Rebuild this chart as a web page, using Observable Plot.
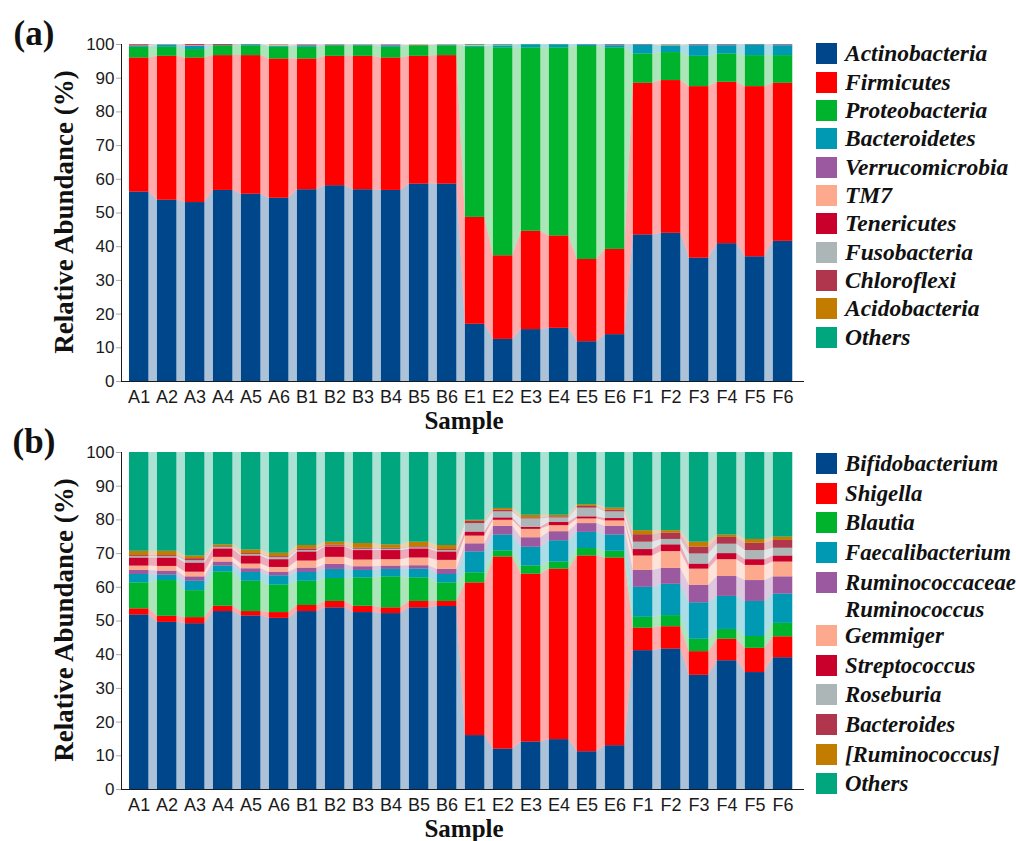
<!DOCTYPE html>
<html>
<head>
<meta charset="utf-8">
<script src="https://cdn.jsdelivr.net/npm/d3@7"></script>
<script src="https://cdn.jsdelivr.net/npm/@observablehq/plot@0.6"></script>
<style>
  html, body { margin: 0; padding: 0; background: #fff; overflow: hidden; }
  #root { position: relative; width: 1016px; height: 841px; overflow: hidden; }
  .panel { position: absolute; left: 0; }
  .ylab { position: absolute; white-space: nowrap; font: bold 27px "Liberation Serif", "Times New Roman", serif; color: #111;
          transform: translate(-50%, -50%) rotate(-90deg); }
  .xlab { position: absolute; white-space: nowrap; font: bold 25px "Liberation Serif", "Times New Roman", serif; color: #111;
          transform: translate(-50%, -50%); }
  .tag { position: absolute; white-space: nowrap; font: bold 35px "Liberation Serif", "Times New Roman", serif; color: #111;
          transform: translate(-50%, -50%); }
  .leg { position: absolute; left: 816px; display: flex; align-items: flex-start; white-space: nowrap; }
  .leg .sw { width: 21px; height: 21px; flex: none; }
  .leg .tx { margin-left: 8px; font: italic bold 23.5px/21px "Liberation Serif", "Times New Roman", serif; color: #111; }
  .legB .tx { font-size: 22.8px; }
  svg [aria-label^="y-axis"] text { font-size: 17px; }
  svg [aria-label^="x-axis"] text { font-size: 18px; }
  svg [aria-label^="y-axis"] path, svg [aria-label^="y-axis"] line,
  svg [aria-label^="x-axis"] path, svg [aria-label^="x-axis"] line { stroke: #a8a8a8; }
</style>
</head>
<body>
<div id="root"></div>
<script>
// ---------- data ----------
const samples = ["A1","A2","A3","A4","A5","A6","B1","B2","B3","B4","B5","B6",
                 "E1","E2","E3","E4","E5","E6","F1","F2","F3","F4","F5","F6"];

// Panel (a): phylum level
const phyla = ["Actinobacteria","Firmicutes","Proteobacteria","Bacteroidetes","Verrucomicrobia",
               "TM7","Tenericutes","Fusobacteria","Chloroflexi","Acidobacteria","Others"];
const phylaColors = ["#00468b","#ff0000","#00b32c","#0099b4","#9b59a0",
                     "#fca98e","#c8002b","#adb6b6","#b0364d","#c27d00","#00a67d"];
const actinobacteria  = [56.2,53.8,53.1,56.7,55.6,54.4,56.9,58.1,56.9,56.7,58.6,58.6,17.0,12.5,15.4,15.8,11.8,13.9,43.5,44.0,36.6,40.9,37.0,41.6];
const firmicutes      = [39.8,42.7,42.9,40.0,41.1,41.3,38.8,38.4,39.6,39.3,37.9,38.1,31.7,24.8,29.2,27.4,24.4,25.3,45.0,45.3,50.9,47.9,50.5,46.9];
const proteobacteria  = [3.2,2.7,2.5,2.9,2.9,3.5,3.5,3.1,3.1,3.2,3.1,2.9,50.5,61.7,54.4,55.8,63.2,59.8,8.7,8.3,9.0,8.4,9.2,8.2];
const bacteroidetes   = [0.2,0.5,1.0,0.1,0.3,0.3,0.3,0.1,0.2,0.3,0.1,0.2,0.3,0.6,0.8,0.7,0.4,0.6,2.5,2.0,3.1,2.4,3.0,2.9];
const verrucomicrobia = [0.1,0.1,0.1,0.0,0.1,0.0,0.3,0.2,0.1,0.3,0.0,0.1,0.0,0.0,0.0,0.1,0.1,0.3,0.2,0.0,0.3,0.3,0.2,0.3];
const tm7             = [0.1,0.1,0.1,0.0,0.0,0.4,0.1,0.1,0.1,0.1,0.3,0.1,0.3,0.2,0.0,0.0,0.0,0.0,0.0,0.3,0.0,0.0,0.0,0.0];
const tenericutes     = [0.2,0.0,0.2,0.2,0.0,0.0,0.0,0.0,0.0,0.0,0.0,0.0,0.0,0.0,0.0,0.0,0.0,0.0,0.0,0.0,0.0,0.0,0.0,0.0];
const fusobacteria    = [0.0,0.0,0.0,0.0,0.0,0.0,0.0,0.0,0.0,0.0,0.0,0.0,0.0,0.0,0.0,0.0,0.0,0.0,0.0,0.0,0.0,0.0,0.0,0.0];
const chloroflexi     = [0.1,0.0,0.1,0.1,0.0,0.0,0.0,0.0,0.0,0.0,0.0,0.0,0.0,0.0,0.0,0.0,0.0,0.0,0.0,0.0,0.0,0.0,0.0,0.0];
const acidobacteria   = [0.0,0.0,0.0,0.0,0.0,0.0,0.0,0.0,0.0,0.0,0.0,0.0,0.0,0.0,0.0,0.0,0.0,0.0,0.0,0.0,0.0,0.0,0.0,0.0];
const othersPhyla     = [0.1,0.1,0.0,0.0,0.0,0.1,0.1,0.0,0.0,0.1,0.0,0.0,0.2,0.2,0.2,0.2,0.1,0.1,0.1,0.1,0.1,0.1,0.1,0.1];

// Panel (b): genus level
const genera = ["Bifidobacterium","Shigella","Blautia","Faecalibacterium","Ruminococcaceae Ruminococcus",
                "Gemmiger","Streptococcus","Roseburia","Bacteroides","[Ruminococcus]","Others"];
const generaColors = phylaColors;
const bifidobacterium  = [51.8,49.6,49.2,52.8,51.5,50.8,52.8,53.9,52.5,52.2,53.9,54.3,16.0,12.0,14.1,14.8,11.2,13.0,41.2,41.7,33.9,38.2,34.7,39.1];
const shigella         = [1.8,1.8,1.8,1.6,1.3,1.7,1.8,1.9,1.9,1.7,1.9,1.5,45.3,57.0,49.8,50.6,58.1,55.7,6.7,6.6,7.0,6.4,7.2,6.2];
const blautia          = [7.7,10.6,8.0,10.1,9.0,8.2,7.2,6.8,8.4,9.2,7.0,5.5,3.0,1.8,2.4,2.1,2.2,2.0,3.2,3.3,3.7,2.9,3.5,4.0];
const faecalibacterium = [2.5,1.6,2.8,1.8,2.6,2.7,2.6,2.7,2.2,2.2,2.6,2.5,6.2,4.7,5.6,6.3,4.8,4.8,8.9,9.3,10.8,9.8,10.4,8.7];
const ruminococcaceae  = [1.2,1.2,1.3,1.2,1.1,1.1,1.3,1.5,1.1,1.0,1.0,1.5,2.4,2.6,2.8,2.7,2.6,2.6,5.0,4.7,5.2,5.9,6.2,5.1];
const gemmiger         = [1.3,1.4,1.4,1.4,1.4,1.4,2.1,2.1,2.0,1.9,2.3,2.7,2.3,1.8,2.5,1.8,1.4,1.6,4.3,5.0,4.8,5.0,4.5,4.4];
const streptococcus    = [2.4,2.5,2.7,2.5,2.4,2.3,2.7,3.1,2.8,2.7,2.7,2.5,1.2,0.7,0.6,1.0,0.6,0.7,1.9,2.0,1.5,1.8,1.7,1.8];
const roseburia        = [0.4,0.4,0.7,0.4,0.4,0.6,0.4,0.2,0.4,0.4,0.3,0.4,2.5,1.8,2.5,1.3,2.6,2.0,2.2,1.6,3.0,2.8,2.7,2.3];
const bacteroides      = [0.3,0.3,0.6,0.2,0.3,0.3,0.5,0.3,0.3,0.3,0.3,0.3,0.7,0.5,0.3,0.3,0.5,0.5,2.2,1.9,2.0,2.0,2.2,2.3];
const ruminococcusBr   = [1.3,1.3,0.8,0.6,1.1,1.0,1.0,0.9,1.4,1.0,1.4,1.2,0.3,0.5,0.8,0.5,0.5,0.6,1.2,0.7,1.5,0.7,1.1,1.0];
const othersGenera     = [29.3,29.3,30.7,27.4,28.9,29.9,27.6,26.6,27.0,27.4,26.6,27.6,20.1,16.6,18.6,18.6,15.5,16.5,23.2,23.2,26.6,24.5,25.8,25.1];

const yTicks = [0,10,20,30,40,50,60,70,80,90,100];

// ---------- drawing ----------
const root = document.getElementById("root");
const HALF = 0.345; // half bar width in band units

function makeChart(taxa, colors, series) {
  const rows = [];
  samples.forEach((s, i) => taxa.forEach((t, k) => rows.push({sample: s, i, taxon: t, value: series[k][i]})));
  const edges = rows.flatMap(d => [{...d, x: d.i - HALF}, {...d, x: d.i + HALF}]);
  return Plot.plot({
    width: 810, height: 420,
    marginTop: 44, marginBottom: 39, marginLeft: 121, marginRight: 7,
    style: {fontFamily: '"Liberation Sans", Arial, sans-serif', color: "#1a1a1a", background: "transparent", overflow: "visible"},
    x: {type: "linear", domain: [-0.63, samples.length - 0.27], ticks: samples.map((s, i) => i),
        tickFormat: i => samples[i], tickSize: 0, tickPadding: 9, label: null, line: true},
    y: {domain: [0, 100], ticks: yTicks, tickSize: 5, tickPadding: 2, label: null, line: true},
    color: {domain: taxa, range: colors},
    marks: [
      Plot.areaY(edges, {x: "x", y: "value", z: "taxon", fill: "taxon", fillOpacity: 0.33, curve: "linear"}),
      Plot.rectY(rows, {x1: d => d.i - HALF, x2: d => d.i + HALF, y: "value", fill: "taxon"})
    ]
  });
}

function addPanel(top, taxa, colors, series, tag, legendTops, legClass) {
  const svg = makeChart(taxa, colors, series);
  svg.classList.add("panel");
  svg.style.top = top + "px";
  root.appendChild(svg);

  const yl = document.createElement("div");
  yl.className = "ylab"; yl.textContent = "Relative Abundance (%)";
  yl.style.left = "64px"; yl.style.top = (top + 212) + "px";
  root.appendChild(yl);

  const xl = document.createElement("div");
  xl.className = "xlab"; xl.textContent = "Sample";
  xl.style.left = "464px"; xl.style.top = (top + 421) + "px";
  root.appendChild(xl);

  const tg = document.createElement("div");
  tg.className = "tag"; tg.textContent = tag;
  tg.style.left = "34px"; tg.style.top = (top + 34) + "px";
  root.appendChild(tg);

  taxa.forEach((t, k) => {
    const it = document.createElement("div");
    it.className = "leg " + legClass;
    it.style.top = legendTops[k] + "px";
    const sw = document.createElement("div");
    sw.className = "sw"; sw.style.background = colors[k];
    const tx = document.createElement("div");
    tx.className = "tx";
    if (t === "Ruminococcaceae Ruminococcus") {
      tx.innerHTML = "Ruminococcaceae<br>Ruminococcus";
      tx.style.lineHeight = "27px"; tx.style.marginTop = "-3px";
    } else tx.textContent = t;
    it.appendChild(sw); it.appendChild(tx);
    root.appendChild(it);
  });
}

const legA = phyla.map((t, k) => 43.3 + k * 28.33);
const legB = genera.map((t, k) => 453 + k * 29.7 + (k >= 5 ? 23.3 : 0));

addPanel(0, phyla, phylaColors,
  [actinobacteria, firmicutes, proteobacteria, bacteroidetes, verrucomicrobia, tm7, tenericutes,
   fusobacteria, chloroflexi, acidobacteria, othersPhyla], "(a)", legA, "legA");
addPanel(408, genera, generaColors,
  [bifidobacterium, shigella, blautia, faecalibacterium, ruminococcaceae, gemmiger, streptococcus,
   roseburia, bacteroides, ruminococcusBr, othersGenera], "(b)", legB, "legB");
</script>
</body>
</html>
